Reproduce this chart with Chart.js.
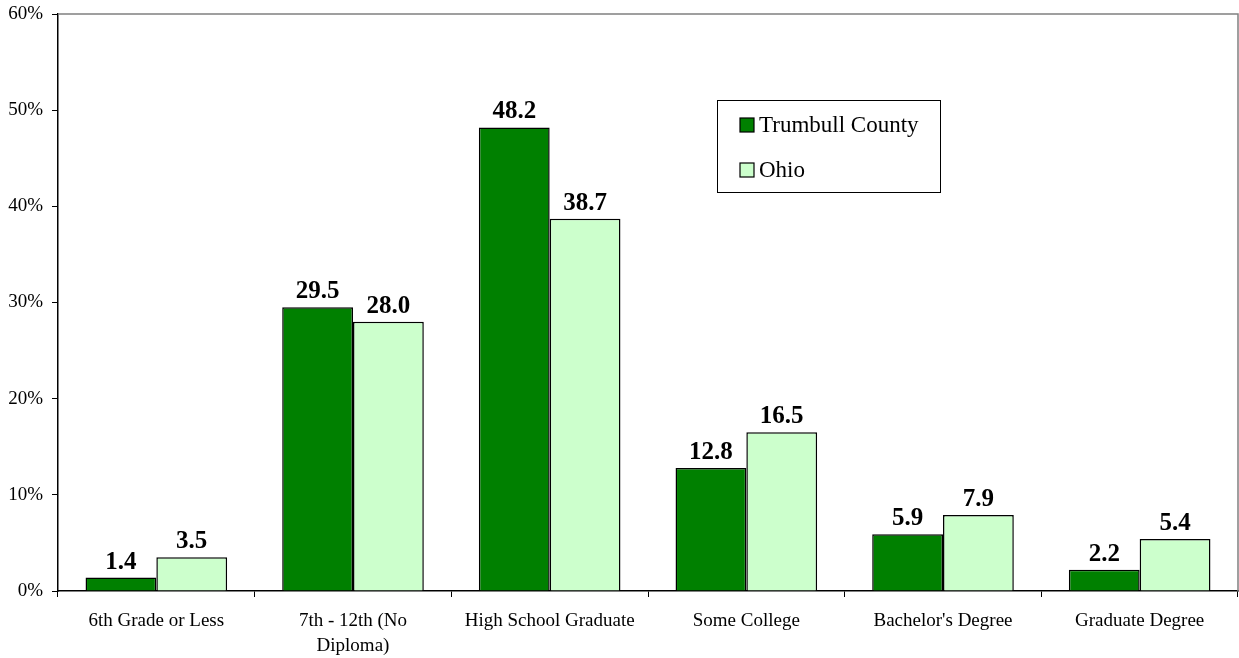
<!DOCTYPE html>
<html>
<head>
<meta charset="utf-8">
<script src="https://cdn.jsdelivr.net/npm/chart.js@4"></script>
<style>
  html, body { margin: 0; padding: 0; background: #fff; }
  #wrap { width: 1239px; height: 658px; }
</style>
</head>
<body>
<div id="wrap"><canvas id="chart"></canvas></div>
<script>
// data
const categories = ["6th Grade or Less", ["7th - 12th (No", "Diploma)"], "High School Graduate", "Some College", "Bachelor's Degree", "Graduate Degree"];
const trumbull = [1.4, 29.5, 48.2, 12.8, 5.9, 2.2];
const ohio = [3.5, 28.0, 38.7, 16.5, 7.9, 5.4];
const seriesNames = ["Trumbull County", "Ohio"];
const yTicks = [0, 10, 20, 30, 40, 50, 60];

const serif = "'Liberation Serif', 'Times New Roman', serif";

// gray frame on top and right of the plot area
const frame = {
  id: "frame",
  beforeDatasetsDraw(chart) {
    const a = chart.chartArea, c = chart.ctx;
    c.save();
    c.strokeStyle = "#808080";
    c.lineWidth = 1.5;
    c.beginPath();
    c.moveTo(a.left, a.top);
    c.lineTo(a.right, a.top);
    c.lineTo(a.right, a.bottom);
    c.stroke();
    c.restore();
  }
};

// value labels above bars
const valueLabels = {
  id: "valueLabels",
  afterDatasetsDraw(chart) {
    const c = chart.ctx;
    c.save();
    c.font = "bold 25px " + serif;
    c.fillStyle = "#000";
    c.textAlign = "center";
    c.textBaseline = "alphabetic";
    chart.data.datasets.forEach((ds, i) => {
      chart.getDatasetMeta(i).data.forEach((bar, j) => {
        c.fillText(ds.data[j].toFixed(1), bar.x, bar.y - 9);
      });
    });
    c.restore();
  }
};

// boxed legend inside the plot
const boxLegend = {
  id: "boxLegend",
  afterDraw(chart) {
    const c = chart.ctx;
    const x = 717, y = 100, w = 223, h = 92;
    c.save();
    c.fillStyle = "#fff";
    c.fillRect(x, y, w, h);
    c.strokeStyle = "#000";
    c.lineWidth = 1;
    c.strokeRect(x + 0.5, y + 0.5, w, h);
    c.font = "23px " + serif;
    c.textBaseline = "middle";
    chart.data.datasets.forEach((ds, i) => {
      const ly = y + 25 + i * 45;
      c.fillStyle = ds.backgroundColor;
      c.fillRect(x + 23, ly - 7, 14, 14);
      c.strokeStyle = "#000";
      c.lineWidth = 1.2;
      c.strokeRect(x + 23, ly - 7, 14, 14);
      c.fillStyle = "#000";
      c.fillText(ds.label, x + 42, ly + 1);
    });
    c.restore();
  }
};

new Chart(document.getElementById("chart"), {
  type: "bar",
  data: {
    labels: categories,
    datasets: [
      { label: seriesNames[0], data: trumbull, backgroundColor: "#008000", borderColor: "#000", borderWidth: 1.5 },
      { label: seriesNames[1], data: ohio, backgroundColor: "#ccffcc", borderColor: "#000", borderWidth: 1.5 }
    ]
  },
  options: {
    responsive: true,
    maintainAspectRatio: false,
    animation: false,
    layout: { padding: { top: 14, right: 1, left: 0, bottom: 0 } },
    datasets: { bar: { categoryPercentage: 0.72, barPercentage: 1.0 } },
    plugins: { legend: { display: false }, tooltip: { enabled: false } },
    scales: {
      x: {
        offset: true,
        grid: { offset: true, drawOnChartArea: false, color: "#000", tickLength: 6, tickColor: "#000" },
        border: { color: "#000", width: 1.5 },
        ticks: { color: "#000", font: { family: serif, size: 19, lineHeight: 1.35 }, maxRotation: 0, padding: 11 },
        afterFit(s) { s.height = 67; s.paddingLeft = 0; s.paddingRight = 0; }
      },
      y: {
        min: 0,
        max: 60,
        afterBuildTicks(s) { s.ticks = yTicks.map(v => ({ value: v })); },
        grid: { drawOnChartArea: false, tickLength: 6, tickColor: "#000" },
        border: { color: "#000", width: 1.5 },
        ticks: { color: "#000", font: { family: serif, size: 19 }, padding: 9, callback: v => v + "%" },
        afterFit(s) { s.width = 58; s.paddingTop = 0; s.paddingBottom = 0; }
      }
    }
  },
  plugins: [frame, valueLabels, boxLegend]
});
</script>
</body>
</html>
